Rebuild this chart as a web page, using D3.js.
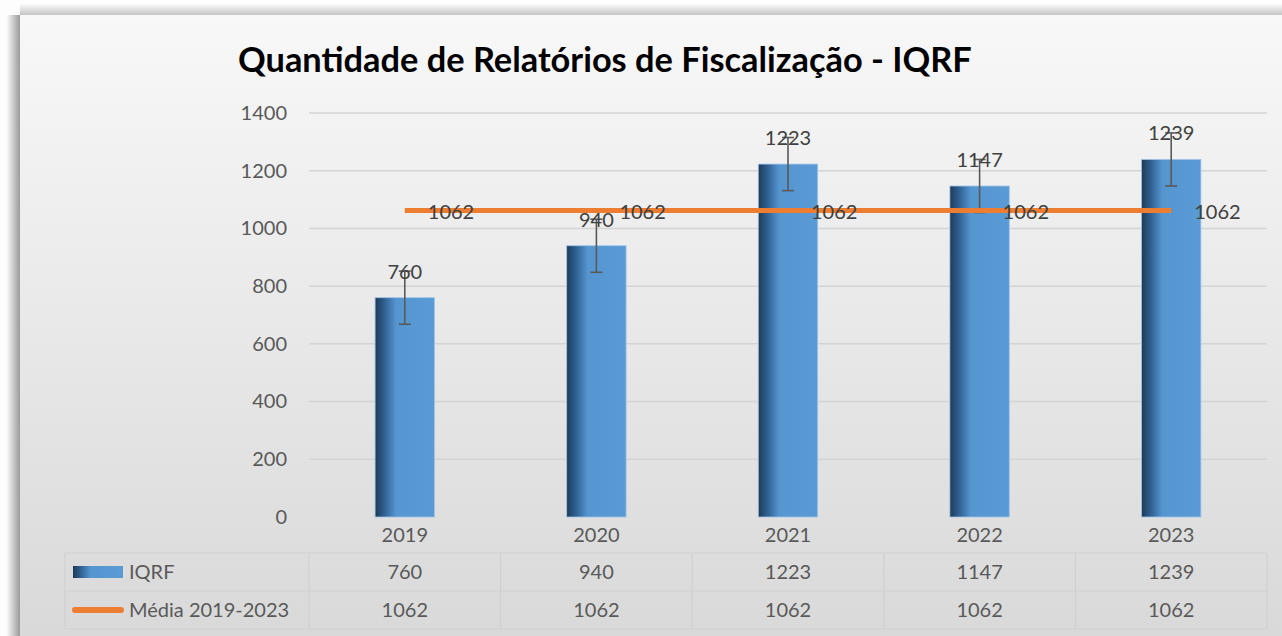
<!DOCTYPE html>
<html><head><meta charset="utf-8">
<script src="https://cdn.jsdelivr.net/npm/d3@7"></script>
<style>html,body{margin:0;padding:0;background:#fdfdfd;overflow:hidden}svg{display:block}</style>
</head><body>
<script>
const categories = ["2019","2020","2021","2022","2023"];
const iqrf = [760, 940, 1223, 1147, 1239];
const media = [1062, 1062, 1062, 1062, 1062];
const errors = [92, 92, 92, 92, 92];
const yTicks = [0, 200, 400, 600, 800, 1000, 1200, 1400];
const seriesNames = ["IQRF", "Média 2019-2023"];
const title = "Quantidade de Relatórios de Fiscalização - IQRF";

const W = 1282, H = 636;
const font = "Lato, 'Open Sans', sans-serif";
const txt = "#595959";
const svg = d3.select("body").append("svg").attr("width", W).attr("height", H);
const defs = svg.append("defs");

const bg = defs.append("linearGradient").attr("id","bg").attr("x1",0).attr("y1",0).attr("x2",0).attr("y2",1);
bg.append("stop").attr("offset","0%").attr("stop-color","#f8f8f8");
bg.append("stop").attr("offset","100%").attr("stop-color","#d9d9d9");

const shL = defs.append("linearGradient").attr("id","shL").attr("x1",0).attr("y1",0).attr("x2",1).attr("y2",0);
shL.append("stop").attr("offset","0%").attr("stop-color","#ffffff");
shL.append("stop").attr("offset","100%").attr("stop-color","#9a9a9a");
const shT = defs.append("linearGradient").attr("id","shT").attr("x1",0).attr("y1",0).attr("x2",0).attr("y2",1);
shT.append("stop").attr("offset","0%").attr("stop-color","#ffffff");
shT.append("stop").attr("offset","100%").attr("stop-color","#c4c4c4");

const barG = defs.append("linearGradient").attr("id","barG").attr("x1",0).attr("y1",0).attr("x2",1).attr("y2",0);
barG.append("stop").attr("offset","0%").attr("stop-color","#1e3a57");
barG.append("stop").attr("offset","15%").attr("stop-color","#2f5f8f");
barG.append("stop").attr("offset","35%").attr("stop-color","#5595d0");
barG.append("stop").attr("offset","100%").attr("stop-color","#5b9bd5");

// frame & shadow
svg.append("rect").attr("x",6).attr("y",15).attr("width",14).attr("height",H-15).attr("fill","url(#shL)");
svg.append("rect").attr("x",20).attr("y",3).attr("width",W-20).attr("height",12).attr("fill","url(#shT)");
svg.append("rect").attr("x",20).attr("y",15).attr("width",W-20).attr("height",H-15).attr("fill","url(#bg)");

// title, sized to span the same width as the reference
const tt = svg.append("text").attr("x",238).attr("y",72).attr("font-family",font).attr("font-weight","bold")
  .attr("font-size",30).attr("fill","#000").text(title);
const tw = tt.node().getComputedTextLength();
tt.attr("font-size", 30 * 734 / tw);

const x = d3.scaleBand().domain(categories).range([309, 1267]);
const y = d3.scaleLinear().domain([0, 1400]).range([517, 113]);

// gridlines
svg.append("g").selectAll("line").data(yTicks.slice(1)).join("line")
  .attr("x1",309).attr("x2",1267).attr("y1",d=>y(d)).attr("y2",d=>y(d))
  .attr("stroke","#d4d4d4").attr("stroke-width",1.5);

// y axis labels
const yAxis = d3.axisLeft(y).tickValues(yTicks).tickFormat(d3.format("d")).tickSize(0).tickPadding(0);
const yg = svg.append("g").attr("transform","translate(287,0)").call(yAxis);
yg.select(".domain").remove();
yg.selectAll("text").attr("font-family",font).attr("font-size",20).attr("fill",txt);

// bars
const bw = x.bandwidth() * 0.31;
const cx = d => x(d) + x.bandwidth()/2;
svg.append("g").selectAll("rect").data(iqrf).join("rect")
  .attr("x",(d,i)=>cx(categories[i]) - bw/2).attr("width",bw)
  .attr("y",d=>y(d)).attr("height",d=>y(0)-y(d))
  .attr("fill","url(#barG)").attr("stroke","#9fc4e8").attr("stroke-width",0.8);

// error bars
const eg = svg.append("g").attr("stroke","#595959").attr("stroke-width",1.6);
iqrf.forEach((v,i)=>{
  const c = cx(categories[i]);
  eg.append("line").attr("x1",c).attr("x2",c).attr("y1",y(v+errors[i])).attr("y2",y(v-errors[i]));
  eg.append("line").attr("x1",c-6).attr("x2",c+6).attr("y1",y(v+errors[i])).attr("y2",y(v+errors[i]));
  eg.append("line").attr("x1",c-6).attr("x2",c+6).attr("y1",y(v-errors[i])).attr("y2",y(v-errors[i]));
});

// mean line
const line = d3.line().x((d,i)=>cx(categories[i])).y(d=>y(d));
svg.append("path").datum(media).attr("d",line).attr("fill","none")
  .attr("stroke","#ed7d31").attr("stroke-width",5);

// bar labels
svg.append("g").selectAll("text").data(iqrf).join("text")
  .attr("x",(d,i)=>cx(categories[i])).attr("y",d=>y(d)-19)
  .attr("text-anchor","middle").attr("font-family",font).attr("font-size",20).attr("fill","#404040")
  .text(d=>d);

// mean labels
svg.append("g").selectAll("text").data(media).join("text")
  .attr("x",(d,i)=>cx(categories[i])+23).attr("y",d=>y(d)+8)
  .attr("font-family",font).attr("font-size",20).attr("fill","#404040")
  .text(d=>d);

// category labels
svg.append("g").selectAll("text").data(categories).join("text")
  .attr("x",d=>cx(d)).attr("y",542).attr("text-anchor","middle")
  .attr("font-family",font).attr("font-size",20).attr("fill",txt).text(d=>d);

// data table
const rowTop = [553, 591], rowH = 38;
const tg = svg.append("g").attr("stroke","#d0d0d0").attr("stroke-width",1.2);
[553, 591, 629].forEach(yy => tg.append("line").attr("x1",65).attr("x2",1267).attr("y1",yy).attr("y2",yy));
tg.append("line").attr("x1",65).attr("x2",65).attr("y1",553).attr("y2",629);
const bounds = categories.map(c=>x(c)).concat([x.range()[1]]);
bounds.forEach(bx => tg.append("line").attr("x1",bx).attr("x2",bx).attr("y1",553).attr("y2",629));

const rows = [iqrf, media];
rows.forEach((r,ri)=>{
  svg.append("g").selectAll("text").data(r).join("text")
    .attr("x",(d,i)=>cx(categories[i])).attr("y",rowTop[ri]+rowH/2+7)
    .attr("text-anchor","middle").attr("font-family",font).attr("font-size",20).attr("fill",txt)
    .text(d=>d);
  svg.append("text").attr("x",129).attr("y",rowTop[ri]+rowH/2+7)
    .attr("font-family",font).attr("font-size",20).attr("fill",txt).text(seriesNames[ri]);
});
// legend keys
svg.append("rect").attr("x",73).attr("y",566).attr("width",50).attr("height",12).attr("fill","url(#barG)");
svg.append("line").attr("x1",75).attr("x2",121).attr("y1",610).attr("y2",610)
  .attr("stroke","#ed7d31").attr("stroke-width",6).attr("stroke-linecap","round");
</script>
</body></html>
